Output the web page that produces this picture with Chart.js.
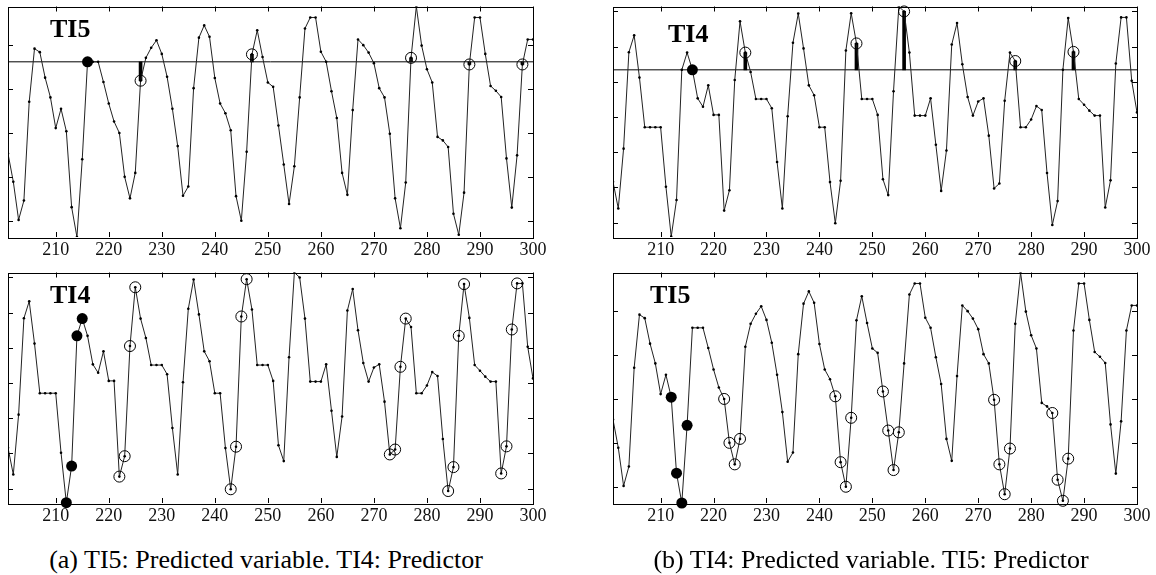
<!DOCTYPE html>
<html>
<head>
<meta charset="utf-8">
<script src="https://cdn.jsdelivr.net/npm/chart.js@4.4.1/dist/chart.umd.min.js"></script>
<style>
  body { margin: 0; background: #fff; width: 1156px; height: 575px; position: relative; overflow: hidden; }
  .panel { position: absolute; }
  .tag { position: absolute; font: bold 26px "Liberation Serif", "DejaVu Serif", serif; color: #000; }
  .caption { position: absolute; font: 26px "Liberation Serif", serif; color: #000; white-space: nowrap; transform: translateX(-50%); }
</style>
</head>
<body>
<div class="panel" style="left:0px;top:0px"><canvas id="aTop" width="578" height="268"></canvas></div>
<div class="panel" style="left:0px;top:266px"><canvas id="aBottom" width="578" height="268"></canvas></div>
<div class="panel" style="left:605px;top:0px"><canvas id="bTop" width="551" height="268"></canvas></div>
<div class="panel" style="left:605px;top:266px"><canvas id="bBottom" width="551" height="268"></canvas></div>

<div class="tag" style="left:50px;top:14px">TI5</div>
<div class="tag" style="left:50px;top:280px">TI4</div>
<div class="tag" style="left:668px;top:19px">TI4</div>
<div class="tag" style="left:650px;top:280px">TI5</div>

<div class="caption" style="left:266px;top:545px">(a) TI5: Predicted variable. TI4: Predictor</div>
<div class="caption" style="left:871px;top:545px">(b) TI4: Predicted variable. TI5: Predictor</div>

<script>
// time index of first sample (one sample per step up to 300)
const firstIndex = 201;
const xTickLabels = [210, 220, 230, 240, 250, 260, 270, 280, 290, 300];

const ti5 = [
  1.53, 0.89, 0.02, 0.46, 2.71, 3.92, 3.84, 3.26, 2.81, 2.11,
  2.55, 2.04, 0.31, -0.37, 1.40, 3.62, 3.62, 3.62, 3.16, 2.67,
  2.26, 2.00, 1.00, 0.51, 1.09, 3.19, 3.71, 3.94, 4.11, 3.80,
  3.28, 2.55, 1.70, 0.57, 0.78, 3.02, 4.17, 4.45, 4.19, 3.25,
  2.67, 2.45, 2.06, 0.56, 0.00, 1.57, 3.79, 4.34, 3.73, 3.15,
  3.05, 2.17, 1.28, 0.38, 1.24, 2.81, 4.38, 4.63, 4.63, 3.85,
  3.62, 2.95, 2.34, 1.09, 0.59, 2.52, 4.13, 4.00, 3.83, 3.59,
  3.02, 2.81, 1.98, 0.51, -0.17, 0.87, 3.71, 4.88, 3.99, 3.45,
  3.15, 1.91, 1.83, 1.68, 0.16, -0.32, 0.64, 3.56, 4.63, 4.63,
  3.80, 3.07, 2.96, 2.82, 1.42, 0.30, 1.49, 3.56, 4.13, 4.13
];

const ti4 = [
  1.16, 0.40, 2.10, 4.84, 5.32, 4.12, 2.71, 2.71, 2.71, 2.71,
  1.02, -0.40, 0.64, 4.34, 4.83, 4.34, 3.53, 3.29, 3.90, 3.06,
  3.06, 0.34, 0.92, 4.05, 5.72, 4.83, 4.28, 3.51, 3.51, 3.51,
  3.25, 1.72, 0.40, 3.02, 5.11, 5.94, 4.95, 3.90, 3.62, 2.71,
  2.71, 1.15, -0.02, 1.19, 4.89, 5.95, 5.09, 3.51, 3.51, 3.51,
  3.06, 1.23, 0.78, 3.73, 6.14, 6.00, 4.83, 3.04, 3.04, 3.04,
  3.53, 2.21, 0.90, 2.05, 5.06, 5.67, 4.50, 3.57, 3.04, 3.44,
  3.53, 2.47, 0.97, 1.11, 3.46, 4.83, 4.59, 2.71, 2.71, 2.93,
  3.31, 3.20, 1.41, -0.07, 0.61, 4.34, 5.81, 4.85, 3.51, 3.35,
  3.18, 3.04, 3.04, 0.43, 1.20, 4.52, 5.83, 5.83, 4.03, 3.13
];

const ti5Ticks = [0, 1, 2, 3, 4];
const ti4Ticks = [0, 1, 2, 3, 4, 5, 6];

// (a) top: TI5 predicted
const aTopCurrent = [216];
const aTopMatches = [226, 247, 277, 288, 298];
const aTopLevel = 3.62;
// (a) bottom: TI4 predictor
const aBottomCurrent = [212, 213, 214, 215];
const aBottomMatches = [222, 223, 224, 225, 243, 244, 245, 246, 273, 274, 275, 276,
  284, 285, 286, 287, 294, 295, 296, 297];
// (b) top: TI4 predicted
const bTopCurrent = [216];
const bTopMatches = [226, 247, 256, 277, 288];
const bTopLevel = 4.34;
// (b) bottom: TI5 predictor
const bBottomCurrent = [212, 213, 214, 215];
const bBottomMatches = [222, 223, 224, 225, 243, 244, 245, 246, 252, 253, 254, 255,
  273, 274, 275, 276, 284, 285, 286, 287];

function toPoints(series) {
  return series.map((v, i) => ({ x: firstIndex + i, y: v }));
}
function pick(series, idx) {
  return idx.map(t => ({ x: t, y: series[t - firstIndex] }));
}

const frame = {
  id: 'frame',
  afterDraw(chart, args, opts) {
    const { ctx, chartArea: a, scales: { x, y } } = chart;
    ctx.save();
    ctx.strokeStyle = '#000';
    ctx.lineWidth = 1;
    ctx.beginPath();
    xTickLabels.forEach(v => {
      const px = Math.round(x.getPixelForValue(v)) + 0.5;
      ctx.moveTo(px, a.bottom); ctx.lineTo(px, a.bottom - 5);
      ctx.moveTo(px, a.top); ctx.lineTo(px, a.top + 5);
    });
    opts.yTicks.forEach(v => {
      const py = Math.round(y.getPixelForValue(v)) + 0.5;
      ctx.moveTo(a.left, py); ctx.lineTo(a.left + 5, py);
      ctx.moveTo(a.right, py); ctx.lineTo(a.right - 5, py);
    });
    ctx.stroke();
    ctx.strokeRect(Math.round(a.left) + 0.5, Math.round(a.top) + 0.5,
      Math.round(a.width), Math.round(a.height));
    ctx.fillStyle = '#111';
    ctx.font = '18px "Liberation Serif", serif';
    ctx.textAlign = 'center';
    ctx.textBaseline = 'middle';
    xTickLabels.forEach(v => {
      ctx.fillText(String(v), x.getPixelForValue(v), a.bottom + 13);
    });
    ctx.restore();
  }
};

function makePanel(id, series, yTicks, yMin, yMax, current, matches, level, padRight) {
  const datasets = [];
  if (level !== null) {
    datasets.push({
      type: 'line',
      data: [{ x: firstIndex, y: level }, { x: 300, y: level }],
      borderColor: '#000', borderWidth: 1, pointRadius: 0, order: 5
    });
    datasets.push({
      type: 'bar',
      data: matches.map(t => ({ x: t, y: [level, series[t - firstIndex]] })),
      backgroundColor: '#000', barThickness: 3, grouped: false, order: 4
    });
  }
  datasets.push({
    type: 'line',
    data: toPoints(series),
    borderColor: '#222', borderWidth: 1, tension: 0,
    pointRadius: 1.3, pointBackgroundColor: '#000', pointBorderWidth: 0,
    order: 3
  });
  datasets.push({
    type: 'line', showLine: false, clip: false,
    data: pick(series, matches),
    pointRadius: 5.5, pointBorderColor: '#000', pointBorderWidth: 1,
    pointBackgroundColor: 'rgba(0,0,0,0)', order: 2
  });
  datasets.push({
    type: 'line', showLine: false, clip: false,
    data: pick(series, current),
    pointRadius: 5.5, pointBorderColor: '#000', pointBorderWidth: 0,
    pointBackgroundColor: '#000', order: 1
  });
  return new Chart(document.getElementById(id), {
    type: 'line',
    data: { datasets },
    options: {
      responsive: false,
      animation: false,
      devicePixelRatio: 1,
      layout: { padding: { left: 8, top: 5, right: padRight, bottom: 31 } },
      scales: {
        x: { type: 'linear', min: 201, max: 300, offset: false, display: false },
        y: { type: 'linear', min: yMin, max: yMax, display: false }
      },
      plugins: {
        legend: { display: false },
        tooltip: { enabled: false },
        frame: { yTicks }
      }
    },
    plugins: [frame]
  });
}

makePanel('aTop', ti5, ti5Ticks, -0.37, 4.88, aTopCurrent, aTopMatches, aTopLevel, 45);
makePanel('aBottom', ti4, ti4Ticks, -0.41, 6.14, aBottomCurrent, aBottomMatches, null, 45);
makePanel('bTop', ti4, ti4Ticks, -0.41, 6.14, bTopCurrent, bTopMatches, bTopLevel, 19);
makePanel('bBottom', ti5, ti5Ticks, -0.37, 4.88, bBottomCurrent, bBottomMatches, null, 19);
</script>
</body>
</html>
